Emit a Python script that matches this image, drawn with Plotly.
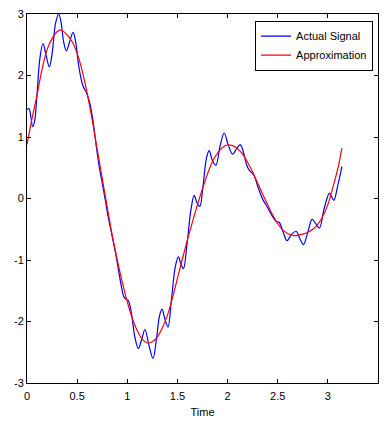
import plotly.graph_objects as go

# Smooth approximation curve (time, value)
approx_t = [0.00, 0.05, 0.10, 0.15, 0.20, 0.25, 0.30, 0.34, 0.40, 0.45, 0.50, 0.55,
            0.60, 0.65, 0.70, 0.75, 0.80, 0.85, 0.90, 0.95, 1.00, 1.05, 1.10, 1.15,
            1.20, 1.25, 1.30, 1.35, 1.40, 1.45, 1.50, 1.55, 1.60, 1.65, 1.70, 1.75,
            1.80, 1.85, 1.90, 1.95, 2.00, 2.05, 2.10, 2.15, 2.20, 2.25, 2.30, 2.35,
            2.40, 2.45, 2.50, 2.55, 2.60, 2.65, 2.70, 2.75, 2.80, 2.85, 2.90, 2.95,
            3.00, 3.05, 3.10, 3.14]
approx_v = [0.88, 1.30, 1.68, 2.10, 2.42, 2.60, 2.71, 2.74, 2.66, 2.55, 2.36, 2.08,
            1.71, 1.28, 0.80, 0.33, -0.14, -0.60, -1.00, -1.36, -1.68, -1.95, -2.15, -2.29,
            -2.35, -2.33, -2.25, -2.10, -1.90, -1.62, -1.30, -0.98, -0.67, -0.38, -0.10, 0.16,
            0.40, 0.60, 0.74, 0.83, 0.87, 0.86, 0.81, 0.72, 0.59, 0.43, 0.25, 0.07,
            -0.10, -0.27, -0.41, -0.51, -0.57, -0.60, -0.60, -0.58, -0.55, -0.50, -0.42, -0.29,
            -0.10, 0.18, 0.49, 0.82]

# Measured signal (time, value)
signal_t = [0.000, 0.020, 0.038, 0.056, 0.075, 0.100, 0.130, 0.160, 0.190, 0.223,
            0.250, 0.285, 0.316, 0.340, 0.365, 0.393, 0.425, 0.460, 0.485, 0.510,
            0.535, 0.560, 0.593, 0.625, 0.655, 0.690, 0.720, 0.750, 0.780, 0.810,
            0.845, 0.880, 0.910, 0.940, 0.966, 0.990, 1.010, 1.040, 1.075, 1.110,
            1.145, 1.176, 1.215, 1.256, 1.290, 1.320, 1.346, 1.375, 1.406, 1.440,
            1.480, 1.510, 1.535, 1.560, 1.595, 1.635, 1.667, 1.695, 1.723, 1.755,
            1.790, 1.816, 1.850, 1.883, 1.925, 1.966, 2.005, 2.050, 2.090, 2.126,
            2.160, 2.190, 2.216, 2.240, 2.265, 2.300, 2.350, 2.400, 2.450, 2.483,
            2.516, 2.555, 2.593, 2.640, 2.683, 2.720, 2.756, 2.800, 2.843, 2.880,
            2.916, 2.965, 3.016, 3.040, 3.060, 3.100, 3.140]
signal_v = [1.45, 1.46, 1.33, 1.17, 1.25, 1.70, 2.30, 2.52, 2.33, 2.14,
            2.35, 2.85, 3.00, 2.86, 2.55, 2.40, 2.55, 2.70, 2.55, 2.22,
            1.98, 1.82, 1.72, 1.56, 1.30, 0.86, 0.52, 0.25, -0.02, -0.30,
            -0.58, -0.86, -1.14, -1.42, -1.60, -1.64, -1.66, -1.85, -2.25, -2.44,
            -2.28, -2.13, -2.38, -2.60, -2.30, -1.92, -1.80, -1.96, -2.09, -1.65,
            -1.10, -0.95, -1.07, -1.14, -0.75, -0.18, 0.05, -0.07, -0.13, 0.20,
            0.66, 0.78, 0.61, 0.54, 0.85, 1.065, 0.88, 0.72, 0.81, 0.875,
            0.74, 0.55, 0.46, 0.42, 0.37, 0.20, -0.01, -0.15, -0.30, -0.37,
            -0.39, -0.55, -0.685, -0.58, -0.533, -0.65, -0.75, -0.55, -0.34, -0.41,
            -0.48, -0.15, 0.086, 0.02, -0.03, 0.22, 0.52]

x_ticks = [0, 0.5, 1, 1.5, 2, 2.5, 3, 3.5]
x_tick_text = ["0", "0.5", "1", "1.5", "2", "2.5", "3", "3.5"]
y_ticks = [-3, -2, -1, 0, 1, 2, 3]
y_tick_text = ["-3", "-2", "-1", "0", "1", "2", "3"]

font_family = "Liberation Sans, Arial, Helvetica, sans-serif"
font_size = 11

fig = go.Figure()
fig.add_trace(go.Scatter(
    x=signal_t, y=signal_v, mode="lines", name="Actual Signal",
    line=dict(color="#0000ff", width=1.2, shape="spline", smoothing=1.0),
))
fig.add_trace(go.Scatter(
    x=approx_t, y=approx_v, mode="lines", name="Approximation",
    line=dict(color="#ff0000", width=1.2, shape="spline", smoothing=1.0),
))

axis_common = dict(
    showline=True, linecolor="black", linewidth=1, mirror="ticks",
    ticks="inside", ticklen=4, tickwidth=1, tickcolor="black",
    showgrid=False, zeroline=False,
    tickfont=dict(family=font_family, size=font_size, color="black"),
)

fig.update_layout(
    width=385, height=423,
    margin=dict(l=27, r=7, t=14, b=40),
    paper_bgcolor="white", plot_bgcolor="white",
    font=dict(family=font_family, size=font_size, color="black"),
    xaxis=dict(range=[0, 3.5], tickvals=x_ticks, ticktext=x_tick_text,
               ticklabelstandoff=3,
               title=dict(text="Time", font=dict(size=font_size), standoff=7),
               **axis_common),
    yaxis=dict(range=[-3, 3], tickvals=y_ticks, ticktext=y_tick_text,
               **axis_common),
    legend=dict(
        x=0.986, y=0.982, xanchor="right", yanchor="top",
        bgcolor="white", bordercolor="black", borderwidth=1,
        font=dict(family=font_family, size=font_size, color="black"),
        itemwidth=30, tracegroupgap=0,
    ),
    showlegend=True,
)

fig.write_html("out.html")
